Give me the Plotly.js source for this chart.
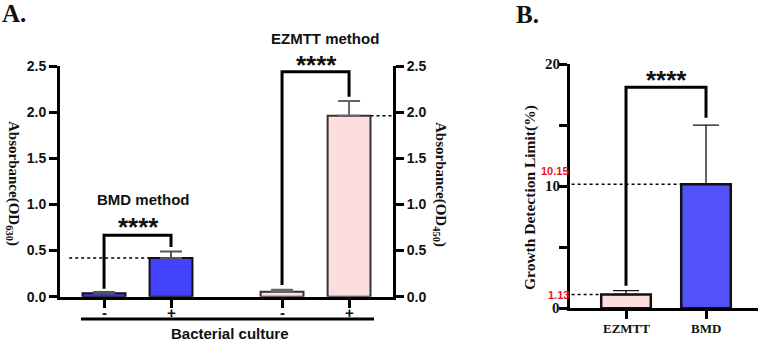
<!DOCTYPE html>
<html>
<head>
<meta charset="utf-8">
<script src="https://cdn.plot.ly/plotly-3.0.1.min.js"></script>
<style>
  html, body { margin: 0; padding: 0; background: #fff; }
  #chart { width: 764px; height: 341px; }
</style>
</head>
<body>
<div id="chart"></div>
<script>
// Panel A: absorbance of negative / positive bacterial culture, BMD vs EZMTT
const aGroups = ['BMD method', 'EZMTT method'];
const aCulture = ['-', '+'];
const bmdMean = [0.037, 0.42];
const bmdErr = [0.013, 0.07];
const ezmttMean = [0.054, 1.96];
const ezmttErr = [0.022, 0.16];
const aSignif = ['****', '****'];
const aTicks = ['0.0', '0.5', '1.0', '1.5', '2.0', '2.5'];

// Panel B: growth detection limit (%)
const bMethods = ['EZMTT', 'BMD'];
const bMean = [1.13, 10.15];
const bErr = [0.31, 4.85];
const bLabels = ['1.13', '10.15'];
const bSignif = '****';
const bTicks = ['0', '10', '20'];

const W = 764, H = 341;
const px = x => x / W;
const py = y => 1 - y / H;
const b = s => '<b>' + s + '</b>';

const BLUE_A = '#4242FC';
const BLUE_B = '#5252F8';
const PINK = '#FDDEDE';
const ARIAL = 'Liberation Sans, Arial, sans-serif';
const SERIF = 'Liberation Serif, Times New Roman, serif';

// x positions inside panel A: pairs one unit apart, groups further apart
const groupGap = 2.657;
const posA = g => [g * groupGap, g * groupGap + 1];
const bmdX = posA(0), ezX = posA(1);

const traces = [
  {
    type: 'bar', x: bmdX, y: bmdMean, width: 0.64,
    marker: { color: BLUE_A, line: { color: '#111', width: 2 } },
    error_y: { type: 'data', array: bmdErr, arrayminus: [0, 0], color: '#555', thickness: 2, width: 11 },
    xaxis: 'x', yaxis: 'y', hoverinfo: 'skip'
  },
  {
    type: 'bar', x: ezX, y: ezmttMean, width: 0.64,
    marker: { color: PINK, line: { color: '#333', width: 2 } },
    error_y: { type: 'data', array: ezmttErr, arrayminus: [0, 0], color: '#666', thickness: 2, width: 11 },
    xaxis: 'x', yaxis: 'y', hoverinfo: 'skip'
  },
  // invisible trace so the right-hand axis is drawn
  { type: 'scatter', x: [0], y: [0], mode: 'none', xaxis: 'x', yaxis: 'y2', hoverinfo: 'skip', showlegend: false },
  {
    type: 'bar', x: [0, 1], y: bMean, width: 0.62,
    marker: { color: [PINK, BLUE_B], line: { color: '#111', width: 2.5 } },
    error_y: { type: 'data', array: bErr, arrayminus: [0, 0], color: '#111', thickness: 1.3, width: 13 },
    xaxis: 'x2', yaxis: 'y3', hoverinfo: 'skip'
  }
];

const axisLine = {
  showgrid: false, zeroline: false, showline: true, linecolor: '#000', linewidth: 3,
  ticks: 'outside', ticklen: 8, tickwidth: 3, tickcolor: '#000'
};
const yA = Object.assign({}, axisLine, {
  range: [0, 2.5], tickvals: [0, 0.5, 1, 1.5, 2, 2.5], ticktext: aTicks.map(b),
  tickfont: { family: ARIAL, size: 14, color: '#111' },
  domain: [py(296.7), py(66)]
});

const layout = {
  width: W, height: H,
  margin: { l: 0, r: 0, t: 0, b: 0 },
  paper_bgcolor: '#fff', plot_bgcolor: 'rgba(0,0,0,0)',
  showlegend: false, barmode: 'overlay',
  xaxis: Object.assign({}, axisLine, {
    domain: [px(60), px(393)], range: [-0.657, 4.313], anchor: 'y',
    tickvals: bmdX.concat(ezX), showticklabels: false
  }),
  yaxis: Object.assign({}, yA, { anchor: 'x', side: 'left' }),
  yaxis2: Object.assign({}, yA, { anchor: 'x', side: 'right', overlaying: 'y' }),
  xaxis2: Object.assign({}, axisLine, {
    domain: [px(570), px(758)], range: [-0.7, 1.65], anchor: 'y3',
    tickvals: [0, 1], showticklabels: false
  }),
  yaxis3: Object.assign({}, axisLine, {
    domain: [py(308.3), py(64)], range: [0, 20], anchor: 'x2',
    tickvals: [0, 5, 10, 15, 20], showticklabels: false
  }),
  shapes: [],
  annotations: []
};

const dotted = (xref, yref, x0, x1, y) => ({
  type: 'line', xref, yref, x0, x1, y0: y, y1: y,
  line: { color: '#000', width: 1.5, dash: 'dot' }
});
const bracket = (xref, yref, xl, xr, yl, yr, top) => ({
  type: 'path', xref, yref,
  path: `M ${xl},${yl} L ${xl},${top} L ${xr},${top} L ${xr},${yr}`,
  line: { color: '#000', width: 3 }
});
const text = (t, x, y, font, extra) => Object.assign({
  text: t, xref: 'paper', yref: 'paper', x: px(x), y: py(y),
  showarrow: false, xanchor: 'center', yanchor: 'middle', font
}, extra || {});

// Panel A reference lines and brackets
layout.shapes.push(dotted('x', 'y', -0.52, bmdX[1] - 0.32, bmdMean[1]));
layout.shapes.push(dotted('x', 'y', ezX[1] + 0.32, 4.3, ezmttMean[1]));
layout.shapes.push(bracket('x', 'y', bmdX[0], bmdX[1],
  bmdMean[0] + bmdErr[0] + 0.035, bmdMean[1] + bmdErr[1] + 0.048, 0.665));
layout.shapes.push(bracket('x', 'y', ezX[0], ezX[1],
  ezmttMean[0] + ezmttErr[0] + 0.05, ezmttMean[1] + ezmttErr[1] + 0.047, 2.438));
// group underline
layout.shapes.push({ type: 'line', xref: 'paper', yref: 'paper',
  x0: px(81), x1: px(374), y0: py(319), y1: py(319), line: { color: '#000', width: 3 } });

// Panel B reference lines and bracket
layout.shapes.push(dotted('x2', 'y3', -0.68, 1 - 0.32, bMean[1]));
layout.shapes.push(dotted('x2', 'y3', -0.68, 0 - 0.32, bMean[0]));
layout.shapes.push(bracket('x2', 'y3', 0, 1, bMean[0] + bErr[0] + 0.4, bMean[1] + bErr[1] + 0.6, 18.1));

const fA = s => ({ family: ARIAL, size: s, color: '#111' });
const fS = s => ({ family: SERIF, size: s, color: '#111' });
const red = { family: ARIAL, size: 11, color: '#E8141B' };

// culture sign labels under panel A ticks
const signX = [104, 171, 282, 349];
aCulture.concat(aCulture).forEach((s, i) => {
  layout.annotations.push(text(b(s), signX[i], 312, fA(15)));
});
// method labels under panel B ticks
[626, 706].forEach((x, i) => layout.annotations.push(text(b(bMethods[i]), x, 328, fS(13))));
// panel B y tick labels
[308.3, 186.2, 64].forEach((y, i) => layout.annotations.push(text(b(bTicks[i]), 562, y, fS(15), { xanchor: 'right' })));

layout.annotations.push(
  text(b('A.'), 14, 14, fS(25)),
  text(b('B.'), 527, 15, fS(25)),
  text(b(aGroups[0]), 143, 199, fA(15)),
  text(b(aGroups[1]), 325, 38, fA(15)),
  text(b(aSignif[0]), 138, 227, fA(26)),
  text(b(aSignif[1]), 316, 65, fA(26)),
  text(b('Bacterial culture'), 230, 333, fA(15)),
  text(b('Absorbance(OD<sub>630</sub>)'), 13, 183, fS(15), { textangle: 90 }),
  text(b('Absorbance(OD<sub>450</sub>)'), 440, 184, fS(15), { textangle: 90 }),
  text(b(bSignif), 666, 80, fA(26)),
  text(b('Growth Detection Limit(%)'), 530, 198, fS(15.5), { textangle: -90 }),
  text(b(bLabels[1]), 571, 171, red, { xanchor: 'right' }),
  text(b(bLabels[0]), 571, 295, red, { xanchor: 'right' })
);

Plotly.newPlot('chart', traces, layout, { staticPlot: true, displayModeBar: false });
</script>
</body>
</html>
